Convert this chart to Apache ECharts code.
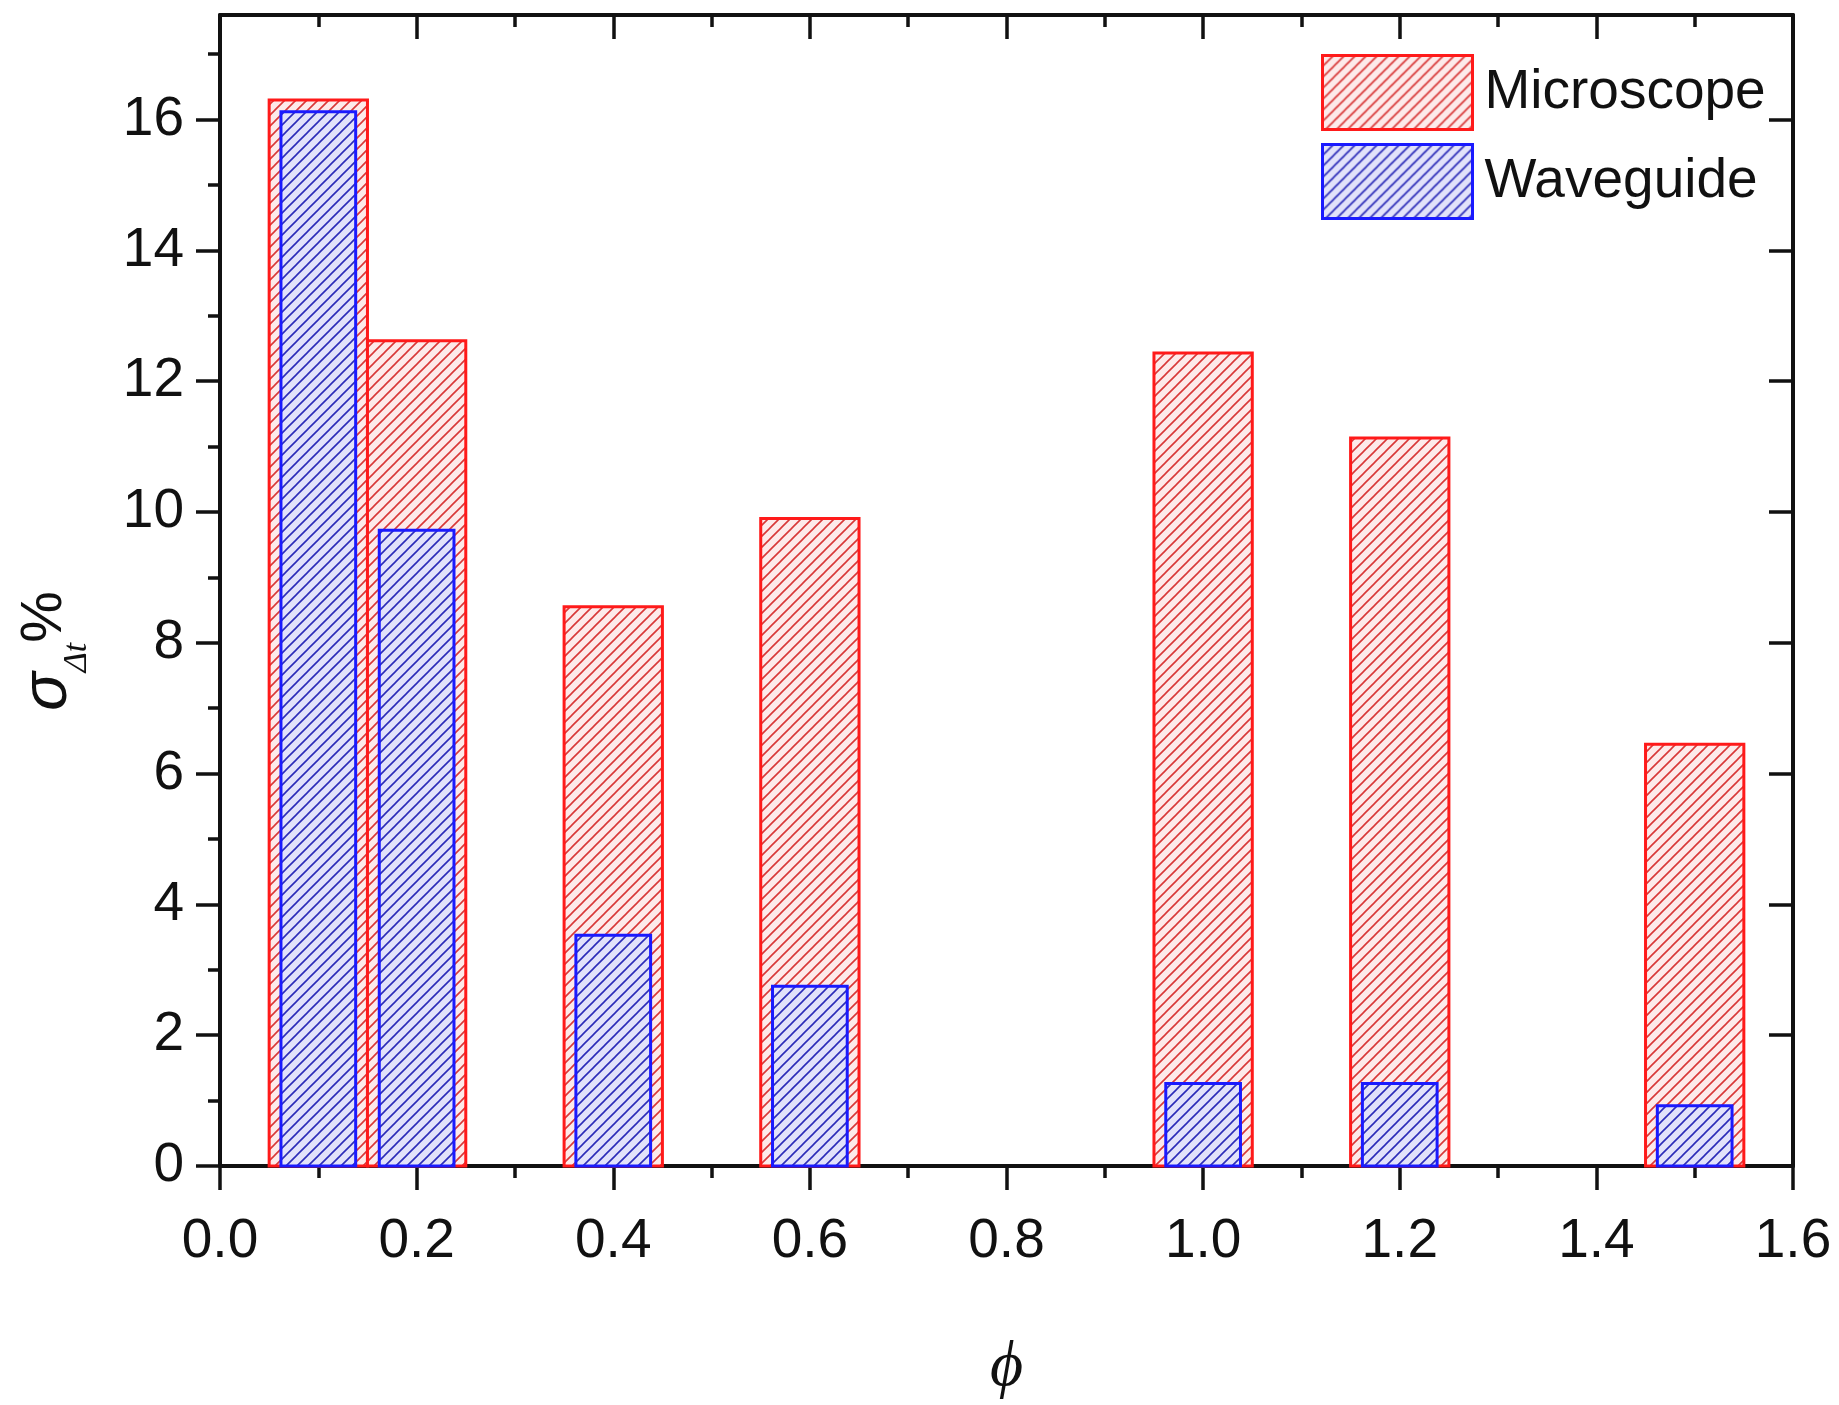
<!DOCTYPE html>
<html>
<head>
<meta charset="utf-8">
<script src="https://cdn.jsdelivr.net/npm/echarts@6/dist/echarts.min.js"></script>
<style>
  html, body {margin: 0; padding: 0; background: #fff;}
  #chart {width: 1839px; height: 1405px;}
</style>
</head>
<body>
<div id="chart"></div>
<script>
// values
const phi = [0.1, 0.2, 0.4, 0.6, 1.0, 1.2, 1.5];
const microscope = [16.3, 12.62, 8.55, 9.9, 12.43, 11.13, 6.45];
const waveguide = [16.12, 9.72, 3.53, 2.75, 1.26, 1.26, 0.92];
const yMajorTicks = [0, 2, 4, 6, 8, 10, 12, 14, 16];
const yMinorTicks = [1, 3, 5, 7, 9, 11, 13, 15, 17];

const FONT = "'Liberation Sans', Arial, sans-serif";
const INK = "#111";

const makeHatch = (bg, line, step, lw) => {
  const c = document.createElement("canvas");
  c.width = step;
  c.height = step;
  const ctx = c.getContext("2d");
  ctx.fillStyle = bg;
  ctx.fillRect(0, 0, step, step);
  ctx.strokeStyle = line;
  ctx.lineWidth = lw;
  ctx.beginPath();
  ctx.moveTo(-1, step + 1);
  ctx.lineTo(step + 1, -1);
  ctx.moveTo(-1, 1);
  ctx.lineTo(1, -1);
  ctx.moveTo(step - 1, step + 1);
  ctx.lineTo(step + 1, step - 1);
  ctx.stroke();
  return {image: c, repeat: "repeat"};
};

const redFill = makeHatch("#fdeaea", "#d83838", 11, 1.6);
const blueFill = makeHatch("#e2e2fa", "#2c2cb8", 11, 1.6);

// half bar widths in phi units
const redHalf = 0.05;
const blueHalf = 0.038;

const barRenderer = (half) => (params, api) => {
  const x = api.value(0);
  const p0 = api.coord([x - half, api.value(1)]);
  const p1 = api.coord([x + half, 0]);
  return {
    type: "rect",
    shape: {x: p0[0], y: p0[1], width: p1[0] - p0[0], height: p1[1] - p0[1]},
    style: api.style(),
  };
};

const axisLine = {show: true, onZero: false, lineStyle: {color: INK, width: 4}};
const tickStyle = {color: INK, width: 3.5};

const yBase = {type: "value", min: 0, max: 17.6, splitLine: {show: false}};

const option = {
  animation: false,
  backgroundColor: "#fff",
  grid: {left: 220, right: 46, top: 15, bottom: 228},
  legend: {
    orient: "vertical",
    left: 1316,
    top: 49,
    itemWidth: 150,
    itemHeight: 74,
    itemGap: 12,
    icon: "rect",
    textStyle: {fontFamily: FONT, fontSize: 55, color: INK, padding: [0, 0, 0, 7]},
    data: [
      {name: "Microscope", itemStyle: {color: redFill, borderColor: "#ff1a1a", borderWidth: 3}},
      {name: "Waveguide", itemStyle: {color: blueFill, borderColor: "#1a1aff", borderWidth: 3}},
    ],
  },
  xAxis: [
    {
      type: "value", position: "bottom", min: 0, max: 1.6, interval: 0.2,
      axisLine: axisLine,
      axisTick: {show: true, length: 24, lineStyle: tickStyle},
      minorTick: {show: true, splitNumber: 2, length: 12, lineStyle: tickStyle},
      axisLabel: {fontFamily: FONT, fontSize: 55, color: INK, margin: 48, formatter: (v) => v.toFixed(1)},
      splitLine: {show: false},
      name: "ϕ",
      nameLocation: "middle",
      nameGap: 170,
      nameTextStyle: {fontFamily: "'Liberation Serif', 'DejaVu Serif', serif", fontStyle: "italic", fontSize: 64, color: INK},
    },
    {
      type: "value", position: "top", min: 0, max: 1.6, interval: 0.2,
      axisLine: axisLine,
      axisTick: {show: true, inside: true, length: 24, lineStyle: tickStyle},
      minorTick: {show: true, splitNumber: 2, length: 12, lineStyle: tickStyle},
      axisLabel: {show: false},
      splitLine: {show: false},
    },
  ],
  yAxis: [
    Object.assign({}, yBase, {
      position: "left",
      axisLine: axisLine,
      axisTick: {show: true, length: 24, lineStyle: tickStyle, customValues: yMajorTicks},
      axisLabel: {fontFamily: FONT, fontSize: 55, color: INK, margin: 36, customValues: yMajorTicks},
    }),
    Object.assign({}, yBase, {
      position: "left",
      axisLine: {show: false},
      axisTick: {show: true, length: 12, lineStyle: tickStyle, customValues: yMinorTicks},
      axisLabel: {show: false},
    }),
    Object.assign({}, yBase, {
      position: "right",
      axisLine: axisLine,
      axisTick: {show: true, inside: true, length: 24, lineStyle: tickStyle, customValues: yMajorTicks},
      axisLabel: {show: false},
    }),
    Object.assign({}, yBase, {
      position: "right",
      axisLine: {show: false},
      axisTick: {show: true, inside: true, length: 12, lineStyle: tickStyle, customValues: yMinorTicks},
      axisLabel: {show: false},
    }),
  ],
  graphic: [
    {
      type: "text",
      x: 55,
      y: 651,
      rotation: Math.PI / 2,
      style: {
        text: "{s|σ}{sub|Δt}{p|%}",
        align: "center",
        verticalAlign: "middle",
        fill: INK,
        rich: {
          s: {fontFamily: FONT, fontStyle: "italic", fontSize: 64, verticalAlign: "top", lineHeight: 70},
          sub: {fontFamily: "'Liberation Serif', serif", fontStyle: "italic", fontSize: 34, verticalAlign: "bottom", padding: [44, 0, 0, 0]},
          p: {fontFamily: FONT, fontSize: 58, verticalAlign: "top", lineHeight: 70},
        },
      },
    },
  ],
  series: [
    {
      name: "Microscope",
      type: "custom",
      xAxisIndex: 0,
      yAxisIndex: 0,
      renderItem: barRenderer(redHalf),
      itemStyle: {color: redFill, borderColor: "#ff1a1a", borderWidth: 3},
      encode: {x: 0, y: 1},
      data: phi.map((p, i) => [p, microscope[i]]),
    },
    {
      name: "Waveguide",
      type: "custom",
      xAxisIndex: 0,
      yAxisIndex: 0,
      renderItem: barRenderer(blueHalf),
      itemStyle: {color: blueFill, borderColor: "#1a1aff", borderWidth: 3},
      encode: {x: 0, y: 1},
      data: phi.map((p, i) => [p, waveguide[i]]),
    },
  ],
};

const chart = echarts.init(document.getElementById("chart"), null, {renderer: "canvas"});
chart.setOption(option);
</script>
</body>
</html>
